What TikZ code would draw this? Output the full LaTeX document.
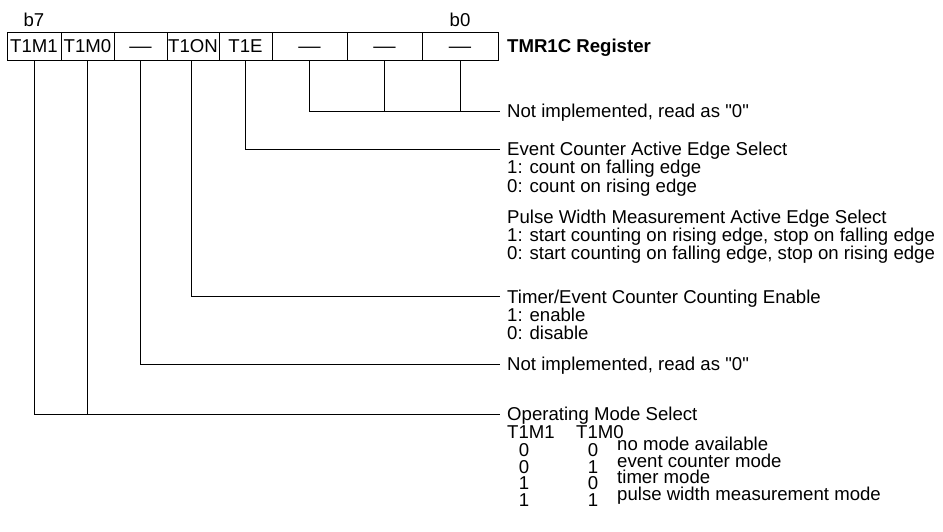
\documentclass[tikz,border=0pt]{standalone}
\usepackage{fontspec}
\setmainfont{Liberation Sans}[Ligatures=TeXOff]
\begin{document}
\begin{tikzpicture}[x=1pt,y=-1pt,
  every node/.style={font=\fontsize{18.6}{18.6}\selectfont},
  cell/.style={draw,line width=1pt,minimum height=28pt,inner sep=0pt,
    text height=13.3pt,text depth=0pt,anchor=center},
  wire/.style={line width=1pt},
  lbl/.style={anchor=base west,inner sep=0pt},
  num/.style={anchor=base,inner sep=0pt}]
\useasboundingbox (0,0) rectangle (943,531);
\newcommand{\nodash}{\scalebox{1.2}[1]{—}}
% register cells
\node[cell,minimum width=54pt] (c7) at (34,46) {T1M1};
\node[cell,minimum width=53pt] (c6) at (87.5,46) {T1M0};
\node[cell,minimum width=53pt] (c5) at (140.5,46) {\nodash};
\node[cell,minimum width=52pt] (c4) at (193,46) {T1ON};
\node[cell,minimum width=53pt] (c3) at (245.5,46) {T1E};
\node[cell,minimum width=75pt] (c2) at (309.5,46) {\nodash};
\node[cell,minimum width=75pt] (c1) at (384.5,46) {\nodash};
\node[cell,minimum width=76pt] (c0) at (460,46) {\nodash};
\node[anchor=base,inner sep=0pt] (b7) at (34,26.5) {b7};
\node[anchor=base,inner sep=0pt] (b0) at (460,26.5) {b0};
\node[anchor=base west,inner sep=0pt,font=\fontsize{18.6}{18.6}\selectfont\bfseries] (reg) at (507,52.6) {TMR1C Register};
% end coordinates
\coordinate (e0) at (500,111);
\coordinate (e3) at (500,149);
\coordinate (e4) at (500,296);
\coordinate (e5) at (500,364);
\coordinate (e7) at (500,414);
% wires
\draw[wire] (c2.south) |- (e0);
\draw[wire] (c1.south) -- (c1.south |- e0);
\draw[wire] (c0.south) -- (c0.south |- e0);
\draw[wire] (c3.south) |- (e3);
\draw[wire] ([xshift=-2pt]c4.south) |- (e4);
\draw[wire] (c5.south) |- (e5);
\draw[wire] (c7.south) |- (e7);
\draw[wire] (c6.south) -- (c6.south |- e7);
% descriptions
\node[lbl] (t0) at (507,117.7) {Not implemented, read as "0"};
\node[lbl] (t3a) at (507,155.7) {Event Counter Active Edge Select};
\node[lbl] (t3b) at (507,173.7) {1: count on falling edge};
\node[lbl] (t3c) at (507,192.2) {0: count on rising edge};
\node[lbl] (t3d) at (507,223.7) {Pulse Width Measurement Active Edge Select};
\node[lbl] (t3e) at (507,241.7) {1: start counting on rising edge, stop on falling edge};
\node[lbl] (t3f) at (507,259.7) {0: start counting on falling edge, stop on rising edge};
\node[lbl] (t4a) at (507,303.2) {Timer/Event Counter Counting Enable};
\node[lbl] (t4b) at (507,321.2) {1: enable};
\node[lbl] (t4c) at (507,339.2) {0: disable};
\node[lbl] (t5) at (507,370.7) {Not implemented, read as "0"};
\node[lbl] (t7) at (507,420.7) {Operating Mode Select};
\node[lbl] (h1) at (507,438.7) {T1M1};
\node[lbl] (h0) at (576,438.7) {T1M0};
\node[num] (r1a) at (524,456.7) {0};
\node[num] (r1b) at (593,456.7) {0};
\node[num] (r2a) at (524,473.2) {0};
\node[num] (r2b) at (593,473.2) {1};
\node[num] (r3a) at (524,489.7) {1};
\node[num] (r3b) at (593,489.7) {0};
\node[num] (r4a) at (524,506.2) {1};
\node[num] (r4b) at (593,506.2) {1};
\node[lbl] (m1) at (617,450.7) {no mode available};
\node[lbl] (m2) at (617,467.2) {event counter mode};
\node[lbl] (m3) at (617,483.7) {timer mode};
\node[lbl] (m4) at (617,500.2) {pulse width measurement mode};
\end{tikzpicture}
\end{document}
